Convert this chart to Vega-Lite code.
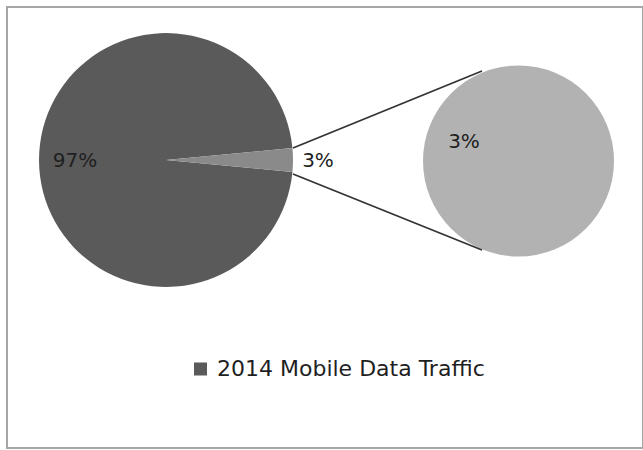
{
  "$schema": "https://vega.github.io/schema/vega-lite/v6.json",
  "width": 643,
  "height": 450,
  "autosize": {"type": "fit", "contains": "padding"},
  "padding": {"left": 7, "top": 7, "right": 0, "bottom": 2},
  "background": "white",
  "config": {
    "view": {"stroke": "#a6a6a6", "strokeWidth": 2},
    "font": "DejaVu Sans"
  },
  "datasets": {
    "traffic": [
      {"slice": "Other data traffic", "value": 97, "label": "97%"},
      {"slice": "Mobile data traffic", "value": 3, "label": "3%"}
    ],
    "mobile": [
      {"slice": "Mobile data traffic", "value": 3, "label": "3%"}
    ]
  },
  "resolve": {"scale": {"theta": "independent", "color": "independent"}, "legend": {"color": "independent"}},
  "layer": [
    {
      "data": {"name": "traffic"},
      "mark": {"type": "arc", "outerRadius": 127},
      "encoding": {
        "theta": {"field": "value", "type": "quantitative", "stack": true, "scale": {"range": [1.4765, 7.7597]}},
        "order": {"field": "slice", "sort": "ascending"},
        "color": {"field": "slice", "type": "nominal", "scale": {"domain": ["Mobile data traffic", "Other data traffic"], "range": ["#8a8a8a", "#5a5a5a"]}, "legend": null},
        "x": {"datum": 166, "type": "quantitative", "scale": {"domain": [7, 643], "nice": false, "zero": false}, "axis": null},
        "y": {"datum": 160, "type": "quantitative", "scale": {"domain": [7, 448], "nice": false, "zero": false, "reverse": true}, "axis": null}
      }
    },
    {
      "data": {"name": "mobile"},
      "mark": {"type": "arc", "outerRadius": 95.5, "fill": "#b2b2b2"},
      "encoding": {
        "theta": {"field": "value", "type": "quantitative", "stack": true},
        "x": {"datum": 518.5, "type": "quantitative"},
        "y": {"datum": 161, "type": "quantitative"}
      }
    },
    {
      "data": {"name": "mobile"},
      "mark": {"type": "rule", "stroke": "#333333", "strokeWidth": 1.8},
      "encoding": {
        "x": {"datum": 293, "type": "quantitative"},
        "y": {"datum": 148, "type": "quantitative"},
        "x2": {"datum": 482},
        "y2": {"datum": 71}
      }
    },
    {
      "data": {"name": "mobile"},
      "mark": {"type": "rule", "stroke": "#333333", "strokeWidth": 1.8},
      "encoding": {
        "x": {"datum": 293, "type": "quantitative"},
        "y": {"datum": 174, "type": "quantitative"},
        "x2": {"datum": 482},
        "y2": {"datum": 250}
      }
    },
    {
      "data": {"values": [{"label": "97%"}]},
      "mark": {"type": "text", "font": "DejaVu Sans", "fontSize": 20, "fill": "#1f1f1f", "align": "center", "baseline": "middle"},
      "encoding": {
        "x": {"datum": 75, "type": "quantitative"},
        "y": {"datum": 161, "type": "quantitative"},
        "text": {"field": "label"}
      }
    },
    {
      "data": {"name": "mobile"},
      "mark": {"type": "text", "font": "DejaVu Sans", "fontSize": 20, "fill": "#1f1f1f", "align": "center", "baseline": "middle"},
      "encoding": {
        "x": {"datum": 318, "type": "quantitative"},
        "y": {"datum": 161, "type": "quantitative"},
        "text": {"field": "label"}
      }
    },
    {
      "data": {"name": "mobile"},
      "mark": {"type": "text", "font": "DejaVu Sans", "fontSize": 20, "fill": "#1f1f1f", "align": "center", "baseline": "middle"},
      "encoding": {
        "x": {"datum": 464, "type": "quantitative"},
        "y": {"datum": 142, "type": "quantitative"},
        "text": {"field": "label"}
      }
    },
    {
      "data": {"values": [{"series": "2014 Mobile Data Traffic"}]},
      "mark": {"type": "square", "opacity": 0, "filled": true},
      "encoding": {
        "x": {"datum": 335, "type": "quantitative"},
        "y": {"datum": 369, "type": "quantitative"},
        "color": {
          "field": "series",
          "type": "nominal",
          "scale": {"range": ["#5a5a5a"]},
          "legend": {
            "title": null,
            "orient": "none",
            "legendX": 182.5,
            "legendY": 351,
            "padding": 0,
            "symbolType": "square",
            "symbolSize": 169,
            "symbolOpacity": 1,
            "symbolStrokeWidth": 0,
            "labelFont": "DejaVu Sans",
            "labelFontSize": 22,
            "labelColor": "#1f1f1f",
            "labelOffset": 5.5,
            "labelLimit": 400
          }
        }
      }
    }
  ]
}
